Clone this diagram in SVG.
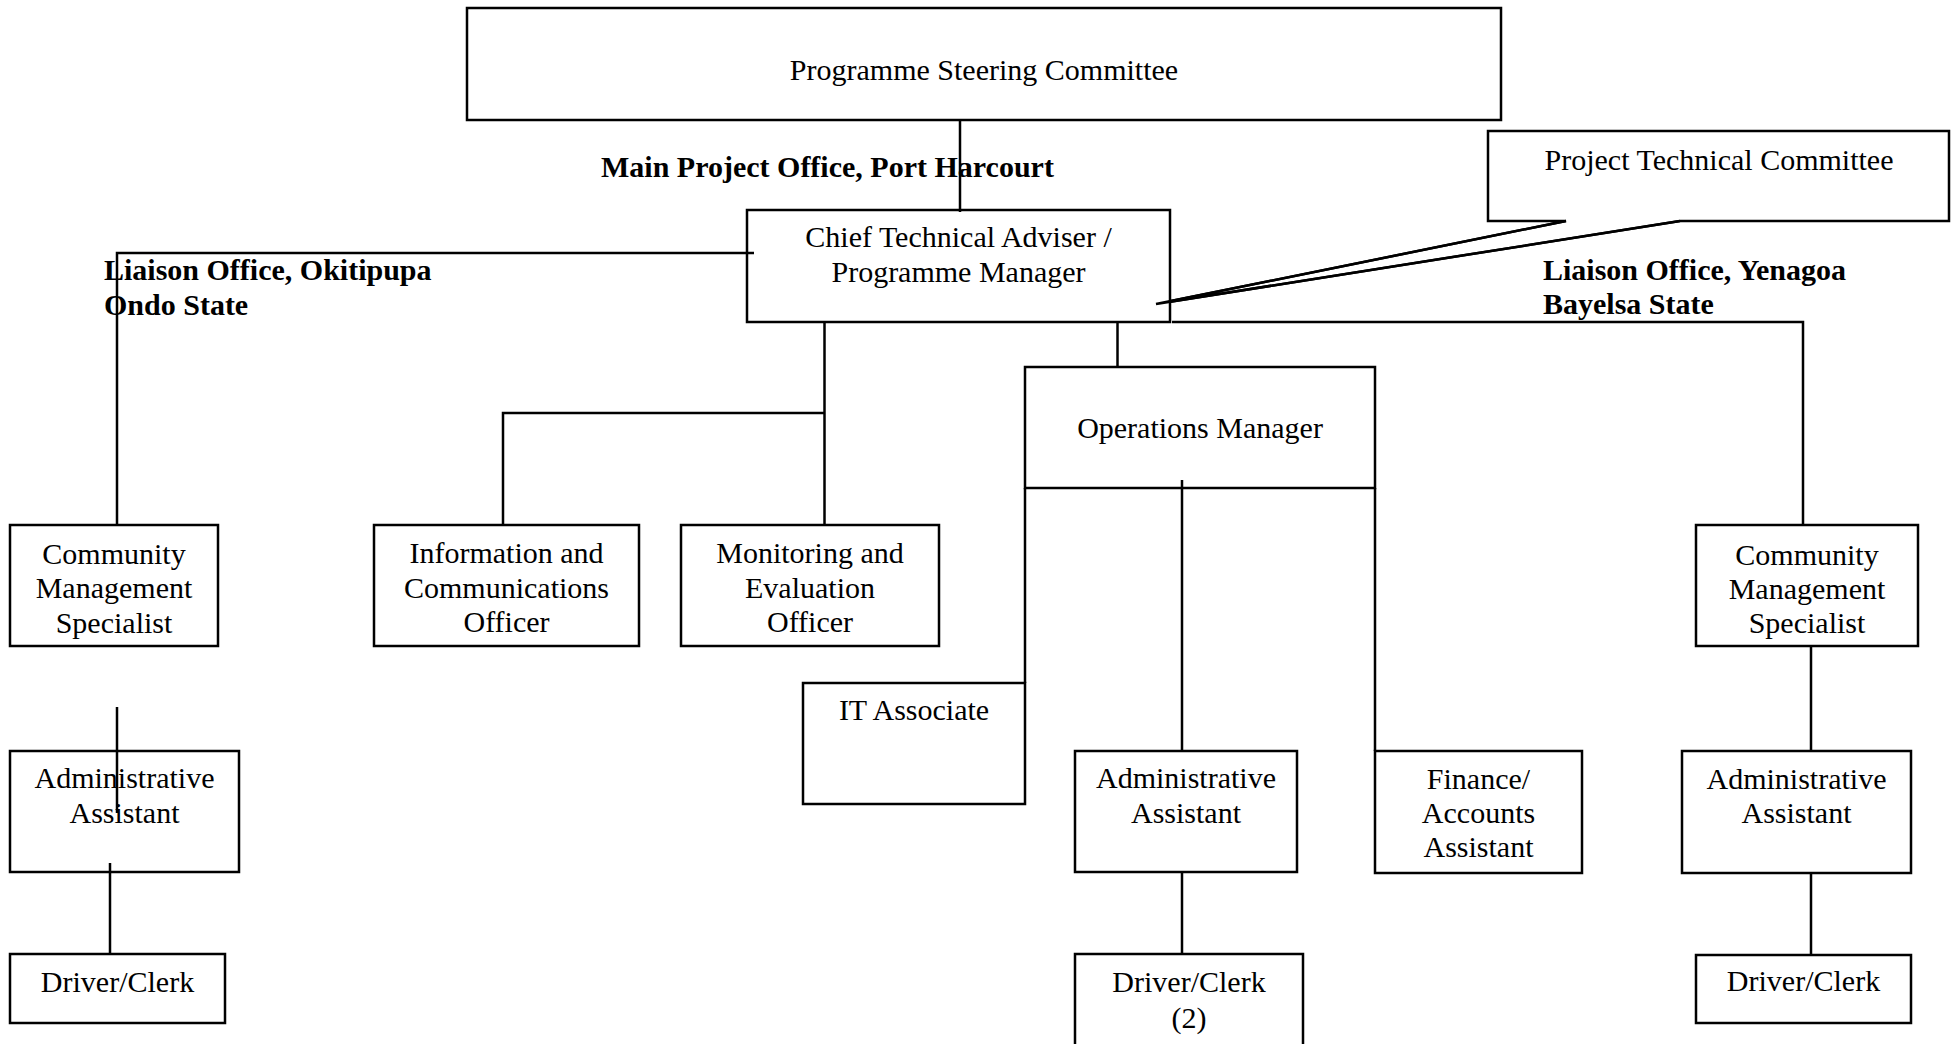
<svg xmlns="http://www.w3.org/2000/svg" width="1957" height="1044" viewBox="0 0 1957 1044">
<style>
.box{fill:#fff;stroke:#000;stroke-width:2.5}
.ln{fill:none;stroke:#000;stroke-width:2.5}
text{font-family:"Liberation Serif","Times New Roman",serif;font-size:30px;fill:#000}
.c{text-anchor:middle}
.b{font-weight:bold}
</style>
<rect width="1957" height="1044" fill="#fff"/>
<g id="labels">
<text class="b" x="601" y="177">Main Project Office, Port Harcourt</text>
<text class="b" x="104" y="280">Liaison Office, Okitipupa</text>
<text class="b" x="104" y="315">Ondo State</text>
<text class="b" x="1543" y="280">Liaison Office, Yenagoa</text>
<text class="b" x="1543" y="314">Bayelsa State</text>
</g>
<g id="steering"><rect class="box" x="467" y="8" width="1034" height="112"/><text class="c" x="984" y="80">Programme Steering Committee</text></g>
<g id="ptc"><path class="box" d="M1488,131 H1949 V221 H1680 L1156,304 L1566,221 H1488 Z"/><text class="c" x="1719" y="170">Project Technical Committee</text></g>
<g id="cta"><rect class="box" x="747" y="210" width="423" height="112"/><text class="c" x="958.5" y="247">Chief Technical Adviser /</text><text class="c" x="958.5" y="282">Programme Manager</text></g>
<g id="ptc-tail"><path class="ln" d="M1566,221 L1156,304 L1680,221"/></g>
<g id="cms-left"><rect class="box" x="10" y="525" width="208" height="121"/><text class="c" x="114" y="564">Community</text><text class="c" x="114" y="598">Management</text><text class="c" x="114" y="633">Specialist</text></g>
<g id="ico"><rect class="box" x="374" y="525" width="265" height="121"/><text class="c" x="506.5" y="563">Information and</text><text class="c" x="506.5" y="598">Communications</text><text class="c" x="506.5" y="632">Officer</text></g>
<g id="me"><rect class="box" x="681" y="525" width="258" height="121"/><text class="c" x="810" y="563">Monitoring and</text><text class="c" x="810" y="598">Evaluation</text><text class="c" x="810" y="632">Officer</text></g>
<g id="om"><rect class="box" x="1025" y="367" width="350" height="121"/><text class="c" x="1200" y="438">Operations Manager</text></g>
<g id="it"><rect class="box" x="803" y="683" width="222" height="121"/><text class="c" x="914" y="720">IT Associate</text></g>
<g id="aa-mid"><rect class="box" x="1075" y="751" width="222" height="121"/><text class="c" x="1186" y="788">Administrative</text><text class="c" x="1186" y="823">Assistant</text></g>
<g id="finance"><rect class="box" x="1375" y="751" width="207" height="122"/><text class="c" x="1478.5" y="789">Finance/</text><text class="c" x="1478.5" y="823">Accounts</text><text class="c" x="1478.5" y="857">Assistant</text></g>
<g id="cms-right"><rect class="box" x="1696" y="525" width="222" height="121"/><text class="c" x="1807" y="565">Community</text><text class="c" x="1807" y="599">Management</text><text class="c" x="1807" y="633">Specialist</text></g>
<g id="aa-left"><rect class="box" x="10" y="751" width="229" height="121"/><text class="c" x="124.5" y="788">Administrative</text><text class="c" x="124.5" y="823">Assistant</text></g>
<g id="aa-right"><rect class="box" x="1682" y="751" width="229" height="122"/><text class="c" x="1796.5" y="789">Administrative</text><text class="c" x="1796.5" y="823">Assistant</text></g>
<g id="dc-left"><rect class="box" x="10" y="954" width="215" height="69"/><text class="c" x="117.5" y="992">Driver/Clerk</text></g>
<g id="dc-mid"><rect class="box" x="1075" y="954" width="228" height="100"/><text class="c" x="1189" y="992">Driver/Clerk</text><text class="c" x="1189" y="1028">(2)</text></g>
<g id="dc-right"><rect class="box" x="1696" y="955" width="215" height="68"/><text class="c" x="1803.5" y="991">Driver/Clerk</text></g>
<g id="connectors" class="ln">
<path class="ln" d="M960,120 V212"/>
<path class="ln" d="M754,253 H117 V525"/>
<path class="ln" d="M824.5,322 V525 M824.5,413 H503 V525"/>
<path class="ln" d="M1117.5,322 V367"/>
<path class="ln" d="M1172,322 H1803 V525"/>
<path class="ln" d="M1025,488 V683"/>
<path class="ln" d="M1182,480 V751"/>
<path class="ln" d="M1375,488 V751"/>
<path class="ln" d="M1811,646 V751 M1811,873 V955"/>
<path class="ln" d="M117,707 V813"/>
<path class="ln" d="M110,863 V954"/>
<path class="ln" d="M1182,872 V954"/>
</g>
</svg>
